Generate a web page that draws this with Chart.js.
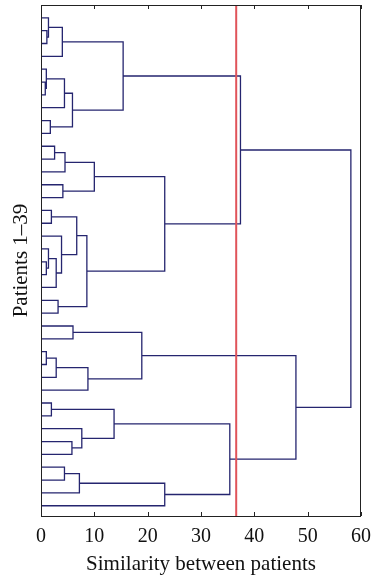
<!DOCTYPE html>
<html>
<head>
<meta charset="utf-8">
<script src="https://cdn.jsdelivr.net/npm/chart.js@4.4.1/dist/chart.umd.min.js"></script>
<style>
  body { margin: 0; background: #fff; }
  #wrap { width: 372px; height: 579px; }
</style>
</head>
<body>
<div id="wrap"><canvas id="dendro" width="372" height="579"></canvas></div>
<script>
// Folhas 1..39 (de cima para baixo); nós internos numerados 40..77 (estilo linkage)
const leafCount = 39;
const mergeLeft  = [2, 1, 41, 6, 5, 44, 9, 45, 42, 11, 49, 14, 50, 16, 20, 19, 55, 18, 53, 23, 58, 52, 48,
                    25, 27, 64, 65, 63, 31, 34, 33, 68, 36, 72, 73, 71, 67, 62];
const mergeRight = [3, 40, 4, 7, 43, 8, 10, 46, 47, 12, 13, 15, 51, 17, 21, 54, 22, 56, 57, 24, 59, 60, 61,
                    26, 28, 29, 30, 66, 32, 35, 69, 70, 37, 38, 39, 74, 75, 76];
const mergeHeight = [1.1, 1.4, 4.0, 0.8, 1.0, 4.4, 1.75, 5.9, 15.4, 2.55, 4.5, 4.1, 10.0, 1.95, 1.0, 1.4, 2.85, 3.85, 6.7, 3.2, 8.6, 23.2, 37.4,
                     6.0, 1.0, 2.85, 8.8, 18.9, 1.95, 5.8, 7.65, 13.7, 4.4, 7.2, 23.2, 35.4, 47.8, 58.1];
const cutoff = 36.6; // linha vermelha de corte
const xTicks = [0, 10, 20, 30, 40, 50, 60];

// posição vertical e altura de cada nó
const nodePos = {}, nodeH = {};
for (let i = 1; i <= leafCount; i++) { nodePos[i] = i; nodeH[i] = 0; }

const treePoints = [];
mergeHeight.forEach((h, k) => {
    const id = leafCount + 1 + k;
    const a = mergeLeft[k], b = mergeRight[k];
    treePoints.push({ x: nodeH[a], y: nodePos[a] });
    treePoints.push({ x: h, y: nodePos[a] });
    treePoints.push({ x: h, y: nodePos[b] });
    treePoints.push({ x: nodeH[b], y: nodePos[b] });
    treePoints.push({ x: h, y: null }); // quebra a linha
    nodePos[id] = (nodePos[a] + nodePos[b]) / 2;
    nodeH[id] = h;
});

const yMax = 39.8;
const serif = "'Liberation Serif', 'DejaVu Serif', serif";

// moldura e marcas de escala para dentro (estilo MATLAB)
const framePlugin = {
    id: 'frame',
    afterDatasetsDraw(chart) {
        const { ctx, chartArea: a, scales } = chart;
        ctx.save();
        ctx.strokeStyle = '#222';
        ctx.lineWidth = 1;
        ctx.strokeRect(a.left + 0.5, a.top + 0.5, a.right - a.left - 1, a.bottom - a.top);
        xTicks.forEach(v => {
            const px = Math.round(scales.x.getPixelForValue(v)) + 0.5;
            ctx.beginPath();
            ctx.moveTo(px, a.bottom); ctx.lineTo(px, a.bottom - 4);
            ctx.moveTo(px, a.top); ctx.lineTo(px, a.top + 4);
            ctx.stroke();
        });
        ctx.restore();
    }
};

new Chart(document.getElementById('dendro'), {
    type: 'line',
    data: {
        datasets: [
            {
                label: 'corte',
                data: [{ x: cutoff, y: 0 }, { x: cutoff, y: yMax }],
                borderColor: '#e0545a',
                borderWidth: 2,
                pointRadius: 0
            },
            {
                label: 'dendrograma',
                data: treePoints,
                borderColor: '#25256f',
                borderWidth: 1.3,
                pointRadius: 0,
                spanGaps: false,
                tension: 0
            }
        ]
    },
    options: {
        responsive: false,
        animation: false,
        layout: { padding: { top: 5, right: 11, left: 0, bottom: 0 } },
        plugins: { legend: { display: false }, tooltip: { enabled: false } },
        scales: {
            x: {
                type: 'linear',
                min: 0, max: 60,
                afterBuildTicks: s => { s.ticks = xTicks.map(v => ({ value: v })); },
                afterFit: s => { s.height = 63; s.paddingLeft = 0; s.paddingRight = 0; },
                grid: { display: false, drawTicks: false },
                border: { display: false },
                ticks: { color: '#111', padding: 9, font: { family: serif, size: 20 } },
                title: {
                    display: true,
                    text: 'Similarity between patients',
                    color: '#111',
                    padding: { top: 0, bottom: 2 },
                    font: { family: serif, size: 21 }
                }
            },
            y: {
                type: 'linear',
                min: 0, max: yMax,
                reverse: true,
                afterFit: s => { s.width = 41; s.paddingTop = 0; s.paddingBottom = 0; },
                grid: { display: false, drawTicks: false },
                border: { display: false },
                ticks: { display: false },
                title: {
                    display: true,
                    text: 'Patients 1–39',
                    color: '#111',
                    padding: { top: 9, bottom: 0 },
                    font: { family: serif, size: 21 }
                }
            }
        }
    },
    plugins: [framePlugin]
});
</script>
</body>
</html>
